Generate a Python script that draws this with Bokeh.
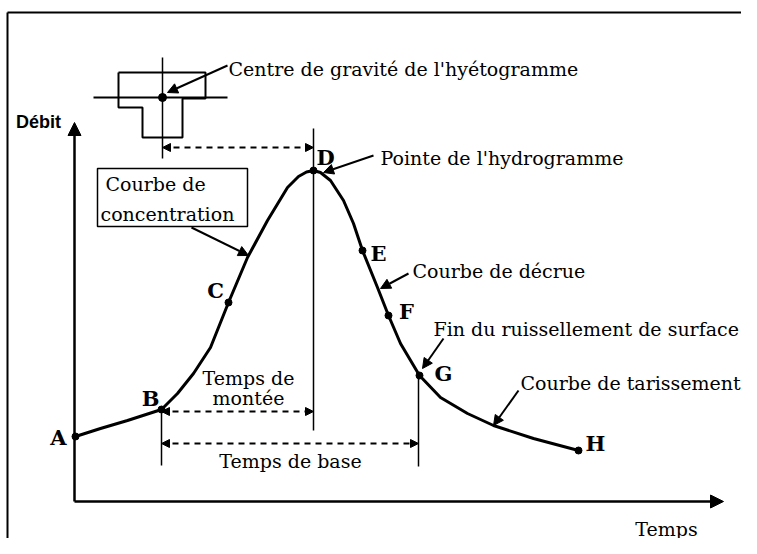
from bokeh.plotting import figure
from bokeh.models import Range1d, Arrow, NormalHead
from bokeh.core.properties import value
from bokeh.embed import file_html
from bokeh.resources import INLINE

# ---- hydrograph curve (time, discharge) ----
curve_t = [1, 26, 53, 87, 103, 119, 136, 154, 173, 193, 213, 224, 232, 239,
           246, 256, 269, 279, 288, 303, 314, 326, 345, 366, 393, 419, 459, 504]
curve_q = [64, 72, 80, 91, 107, 127, 153, 198, 243, 280, 313, 324, 328.5, 330,
           328, 320, 300, 277, 250, 213, 185, 157, 125, 103, 87, 75, 62, 50]

# ---- labelled points ----
point_labels = ["A", "B", "C", "D", "E", "F", "G", "H"]
point_t = [1, 87, 154, 239, 288, 314, 345, 504]
point_q = [64, 91, 198, 330, 250, 185, 125, 50]
label_t = [-16, 76, 141, 251, 304, 332, 369, 521]
label_q = [63, 102, 210, 343, 247, 189, 127, 57]

# ---- hyetograph (step shape) ----
hyeto_t = [44, 131, 131, 108, 108, 68, 68, 44, 44]
hyeto_q = [428, 428, 402, 402, 363, 363, 393, 393, 428]
centroid_t = [88]
centroid_q = [403]

# ---- reference times ----
t_B, t_D, t_G = 87, 239, 344

# ---- annotation texts ----
note_texts = ["Centre de gravité de l'hyétogramme", "Pointe de l'hydrogramme",
              "Courbe de décrue", "Fin du ruissellement de surface",
              "Courbe de tarissement", "Courbe de", "concentration"]
note_t = [154, 306, 338, 359, 446, 31, 26]
note_q = [432, 343, 230, 172, 118, 317, 287]

# pointer arrows (tail -> head)
ptr_t0 = [153, 117, 299, 334, 369, 444]
ptr_q0 = [435, 273, 345, 227, 162, 110]
ptr_t1 = [93, 174, 249, 306, 348, 419]
ptr_q1 = [408, 245, 328, 212, 132, 75]

center_texts = ["Temps de", "montée", "Temps de base"]
center_t = [174, 174, 216]
center_q = [123, 103, 40]

SERIF = value("DejaVu Serif")

p = figure(width=741, height=538, x_range=Range1d(-74, 667), y_range=Range1d(-38, 500),
           output_backend="svg", toolbar_location=None, min_border=0,
           x_axis_location=None, y_axis_location=None)
p.grid.visible = False
p.outline_line_color = None
p.background_fill_color = "white"
p.border_fill_color = "white"

# frame
p.line([-67, 667], [488, 488], line_color="black", line_width=2)
p.line([-67, -67], [488, -38], line_color="black", line_width=2)

# axes with arrows
p.add_layout(Arrow(x_start=0, y_start=-1, x_end=0, y_end=378, line_width=2.5,
                   end=NormalHead(size=13, fill_color="black", line_color="black")))
p.add_layout(Arrow(x_start=0, y_start=-1, x_end=649, y_end=-1, line_width=2.5,
                   end=NormalHead(size=13, fill_color="black", line_color="black")))

# vertical reference lines
p.line([88, 88], [443, 342], line_color="black", line_width=1.5)
p.line([t_B, t_B], [91, 35], line_color="black", line_width=1.5)
p.line([t_D, t_D], [372, 70], line_color="black", line_width=1.5)
p.line([t_G, t_G], [125, 34], line_color="black", line_width=1.5)

# dashed time arrows
for (a, b, q) in [(88, t_D, 353), (t_B, t_D, 89), (t_B, t_G, 57)]:
    p.add_layout(Arrow(x_start=a, y_start=q, x_end=b, y_end=q, line_width=1.8,
                       line_dash="6 5",
                       start=NormalHead(size=8, fill_color="black", line_color="black"),
                       end=NormalHead(size=8, fill_color="black", line_color="black")))

# hyetograph
p.line(hyeto_t, hyeto_q, line_color="black", line_width=2)
p.line([19, 153], [403, 403], line_color="black", line_width=2)
p.scatter(centroid_t, centroid_q, size=8, color="black")

# hydrograph curve
p.line(curve_t, curve_q, line_color="black", line_width=3, line_join="round")
p.scatter(point_t, point_q, size=7, color="black")

# box around "Courbe de concentration"
p.quad(left=[23], right=[173], bottom=[274], top=[332], fill_color="white",
       line_color="black", line_width=1.5)

# pointer arrows
for i in range(len(ptr_t0)):
    p.add_layout(Arrow(x_start=ptr_t0[i], y_start=ptr_q0[i], x_end=ptr_t1[i], y_end=ptr_q1[i],
                       line_width=2,
                       end=NormalHead(size=10, fill_color="black", line_color="black")))

# texts
p.text(x=note_t, y=note_q, text=note_texts, text_font=SERIF, text_font_size="19px",
       text_align="left", text_baseline="middle", text_color="black")
p.text(x=center_t, y=center_q, text=center_texts, text_font=SERIF, text_font_size="19px",
       text_align="center", text_baseline="middle", text_color="black")
p.text(x=label_t, y=label_q, text=point_labels, text_font=SERIF, text_font_size="21px",
       text_font_style="bold", text_align="center", text_baseline="middle", text_color="black")
p.text(x=[-36], y=[379], text=["Débit"], text_font=value("Liberation Sans"),
       text_font_size="18px", text_font_style="bold", text_align="center",
       text_baseline="middle", text_color="black")
p.text(x=[592], y=[-28], text=["Temps"], text_font=SERIF, text_font_size="19px",
       text_align="center", text_baseline="middle", text_color="black")

open("out.html", "w").write(file_html(p, INLINE))
